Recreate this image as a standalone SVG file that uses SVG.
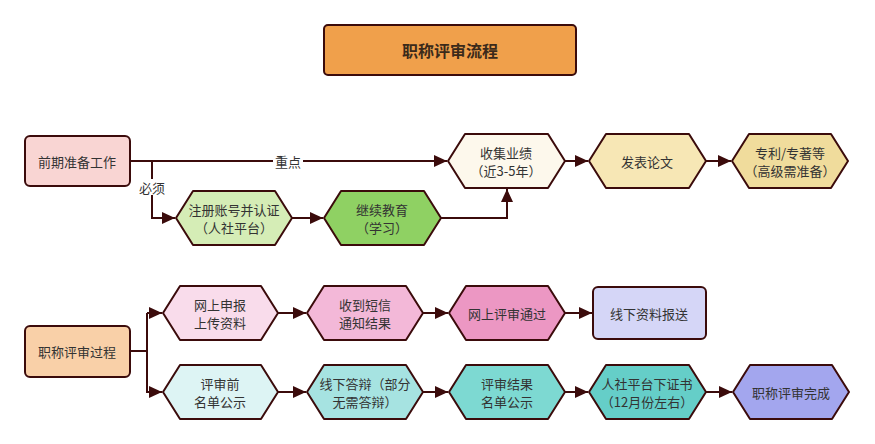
<svg xmlns="http://www.w3.org/2000/svg" width="875" height="444" viewBox="0 0 875 444">
<style>
.n{stroke:#3b0b0b;stroke-width:2;stroke-linejoin:round}
.t{font-family:"Noto Sans CJK SC","Noto Sans",sans-serif;font-size:13px;fill:#333;text-anchor:middle;dominant-baseline:central}
.c{fill:none;stroke:#3b0b0b;stroke-width:2}
.lb{fill:#fff}
</style>
<defs>
<marker id="ah" markerUnits="userSpaceOnUse" markerWidth="14" markerHeight="12" refX="13" refY="6" orient="auto">
<path d="M0,0 L13,6 L0,12 Z" fill="#3b0b0b"/>
</marker>
</defs>
<rect width="875" height="444" fill="#fff"/>

<g id="connectors">
<path class="c" d="M130,161 H447" marker-end="url(#ah)"/>
<rect class="lb" x="273" y="153" width="30" height="16"/>
<text class="t" x="288" y="161">重点</text>
<path class="c" d="M152,161 V218 H175" marker-end="url(#ah)"/>
<rect class="lb" x="138" y="179" width="29" height="16"/>
<text class="t" x="152" y="187">必须</text>
<path class="c" d="M292,218 H323" marker-end="url(#ah)"/>
<path class="c" d="M441,218 H507 V189" marker-end="url(#ah)"/>
<path class="c" d="M565,161 H588" marker-end="url(#ah)"/>
<path class="c" d="M706,161 H731" marker-end="url(#ah)"/>
<path class="c" d="M130,351 H147"/>
<path class="c" d="M147,313 V393"/>
<path class="c" d="M147,313 H162" marker-end="url(#ah)"/>
<path class="c" d="M147,392 H162" marker-end="url(#ah)"/>
<path class="c" d="M278,313 H306" marker-end="url(#ah)"/>
<path class="c" d="M423,313 H448" marker-end="url(#ah)"/>
<path class="c" d="M565,313 H592" marker-end="url(#ah)"/>
<path class="c" d="M278,392 H306" marker-end="url(#ah)"/>
<path class="c" d="M423,392 H448" marker-end="url(#ah)"/>
<path class="c" d="M565,392 H588" marker-end="url(#ah)"/>
<path class="c" d="M706,392 H732" marker-end="url(#ah)"/>
</g>

<g id="title">
<rect class="n" x="324" y="25" width="252" height="50" rx="4" fill="#f0a04b"/>
<text class="t" x="450" y="50" style="font-size:16px;font-weight:bold;fill:#3b2a1a">职称评审流程</text>
</g>

<g id="prep">
<rect class="n" x="25" y="136" width="105" height="50" rx="5" fill="#f9d5d3"/>
<text class="t" x="77" y="161">前期准备工作</text>
</g>
<g id="register">
<polygon class="n" points="176,218 193,191 275,191 292,218 275,245 193,245" fill="#d5edb6"/>
<text class="t" x="234" y="209">注册账号并认证</text>
<text class="t" x="234" y="227">（人社平台）</text>
</g>
<g id="edu">
<polygon class="n" points="324,218 341,191 424,191 441,218 424,245 341,245" fill="#8fd163"/>
<text class="t" x="382" y="209">继续教育</text>
<text class="t" x="382" y="227">（学习）</text>
</g>
<g id="collect">
<polygon class="n" points="448,161 465,134 548,134 565,161 548,188 465,188" fill="#fdf8ec"/>
<text class="t" x="506" y="152">收集业绩</text>
<text class="t" x="506" y="170">（近3-5年）</text>
</g>
<g id="paper">
<polygon class="n" points="589,161 606,134 689,134 706,161 689,188 606,188" fill="#f7e7b5"/>
<text class="t" x="647" y="161">发表论文</text>
</g>
<g id="patent">
<polygon class="n" points="732,161 749,134 831,134 848,161 831,188 749,188" fill="#f0dc9c"/>
<text class="t" x="790" y="152">专利/专著等</text>
<text class="t" x="790" y="170">（高级需准备）</text>
</g>

<g id="process">
<rect class="n" x="25" y="326" width="105" height="51" rx="5" fill="#f9d0a8"/>
<text class="t" x="77" y="351">职称评审过程</text>
</g>
<g id="apply">
<polygon class="n" points="163,313 180,286 261,286 278,313 261,340 180,340" fill="#f9dceb"/>
<text class="t" x="220" y="304">网上申报</text>
<text class="t" x="220" y="322">上传资料</text>
</g>
<g id="sms">
<polygon class="n" points="307,313 324,286 406,286 423,313 406,340 324,340" fill="#f3b8d8"/>
<text class="t" x="365" y="304">收到短信</text>
<text class="t" x="365" y="322">通知结果</text>
</g>
<g id="pass">
<polygon class="n" points="449,313 466,286 548,286 565,313 548,340 466,340" fill="#ec97c3"/>
<text class="t" x="507" y="313">网上评审通过</text>
</g>
<g id="submit">
<rect class="n" x="593" y="287" width="113" height="52" rx="5" fill="#d5d6f7"/>
<text class="t" x="649" y="313">线下资料报送</text>
</g>
<g id="prelist">
<polygon class="n" points="163,392 180,365 261,365 278,392 261,419 180,419" fill="#ddf4f4"/>
<text class="t" x="220" y="383">评审前</text>
<text class="t" x="220" y="401">名单公示</text>
</g>
<g id="defense">
<polygon class="n" points="307,392 324,365 406,365 423,392 406,419 324,419" fill="#a6e3e1"/>
<text class="t" x="365" y="383">线下答辩（部分</text>
<text class="t" x="365" y="401">无需答辩）</text>
</g>
<g id="result">
<polygon class="n" points="449,392 466,365 548,365 565,392 548,419 466,419" fill="#7dd9d2"/>
<text class="t" x="507" y="383">评审结果</text>
<text class="t" x="507" y="401">名单公示</text>
</g>
<g id="cert">
<polygon class="n" points="589,392 606,365 689,365 706,392 689,419 606,419" fill="#65cec8"/>
<text class="t" x="647" y="383">人社平台下证书</text>
<text class="t" x="647" y="401">（12月份左右）</text>
</g>
<g id="done">
<polygon class="n" points="733,392 750,365 832,365 849,392 832,419 750,419" fill="#a3a6ee"/>
<text class="t" x="791" y="392">职称评审完成</text>
</g>
</svg>
